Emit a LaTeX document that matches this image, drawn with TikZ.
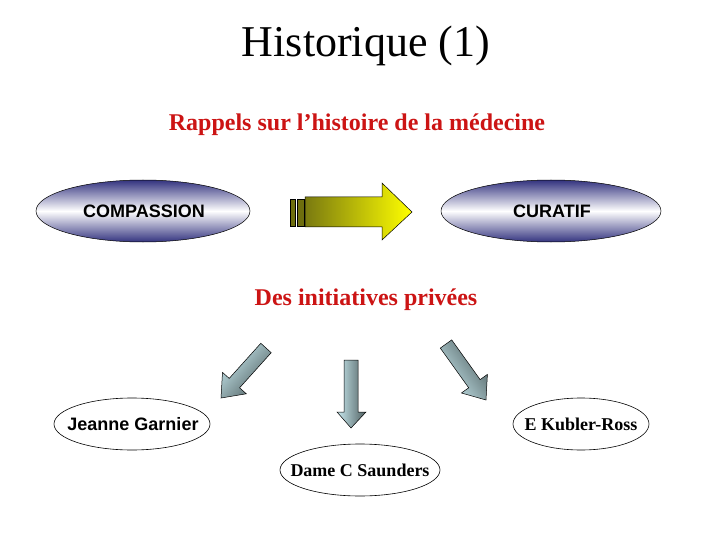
\documentclass[tikz,border=0pt]{standalone}
\usepackage{fontspec}
\setmainfont{Liberation Serif}
\setsansfont{Liberation Sans}
\usetikzlibrary{shapes.geometric}
\definecolor{navy}{HTML}{33337F}
\definecolor{redtxt}{HTML}{CC1414}
\definecolor{olive}{HTML}{7A7A10}
\definecolor{yel}{HTML}{FFFF00}
\definecolor{slate}{HTML}{4F5F60}
\definecolor{lightcyan}{HTML}{C8E8EE}
\tikzset{
  blueell/.style={draw=black, line width=0.5pt, top color=navy, bottom color=navy, middle color=white},
  plainell/.style={draw=black, line width=0.6pt, fill=white},
  sanslbl/.style={font=\sffamily\bfseries\fontsize{18}{20}\selectfont},
  seriflbl/.style={font=\bfseries\fontsize{18}{20}\selectfont},
  blarrow/.style={draw=black, line width=0.5pt, left color=slate, right color=lightcyan},
  redtitle/.style={text=redtxt, font=\bfseries\fontsize{24}{26}\selectfont}
}
\begin{document}
\begin{tikzpicture}[x=1pt,y=-1pt]
\useasboundingbox (0,0) rectangle (720,540);
\fill[white] (0,0) rectangle (720,540);
% titles
\node[font=\fontsize{44}{48}\selectfont] (title) at (366,46) {Historique (1)};
\node[redtitle] (rappels) at (357,125) {Rappels sur l’histoire de la médecine};
\node[redtitle] (initiatives) at (366,300) {Des initiatives privées};
% top ellipses
\shade[blueell] (143,211) ellipse [x radius=107, y radius=31];
\node[sanslbl] (compassion) at (144,211) {COMPASSION};
\shade[blueell] (551,211) ellipse [x radius=110, y radius=31];
\node[sanslbl] (curatif) at (552,211) {CURATIF};
% yellow arrow
\draw[line width=0.5pt, fill=olive!90!black] (290,199) rectangle (295,226);
\draw[line width=0.5pt, fill=olive!90!black] (297,199) rectangle (304,226);
\shade[draw=black, line width=0.5pt, left color=olive, right color=yel]
  (305,197) -- (382,197) -- (382,183) -- (412,212) -- (382,240) -- (382,227) -- (305,227) -- cycle;
% blue-gray arrows
\shade[blarrow, shading angle=228]
  (271.2,352.7) -- (239.6,387.8) -- (246.3,393.8) -- (221,398) -- (222.5,372.4) -- (229.2,378.4) -- (260.8,343.3) -- cycle;
\shade[blarrow, shading angle=270]
  (344,360) -- (358,360) -- (358,412) -- (366,412) -- (351,428) -- (337,412) -- (344,412) -- cycle;
\shade[blarrow, shading angle=305.5]
  (440.3,348.1) -- (468.7,387.8) -- (461.4,393.0) -- (486,400) -- (487.4,374.4) -- (480.1,379.6) -- (451.7,339.9) -- cycle;
% bottom ellipses
\path[plainell] (132,424) ellipse [x radius=78, y radius=26];
\node[sanslbl] (garnier) at (133,424) {Jeanne Garnier};
\path[plainell] (581,424) ellipse [x radius=68, y radius=26];
\node[seriflbl] (kubler) at (581,424) {E Kubler-Ross};
\path[plainell] (360,470) ellipse [x radius=80, y radius=26];
\node[seriflbl] (saunders) at (360,470) {Dame C Saunders};
\end{tikzpicture}
\end{document}
